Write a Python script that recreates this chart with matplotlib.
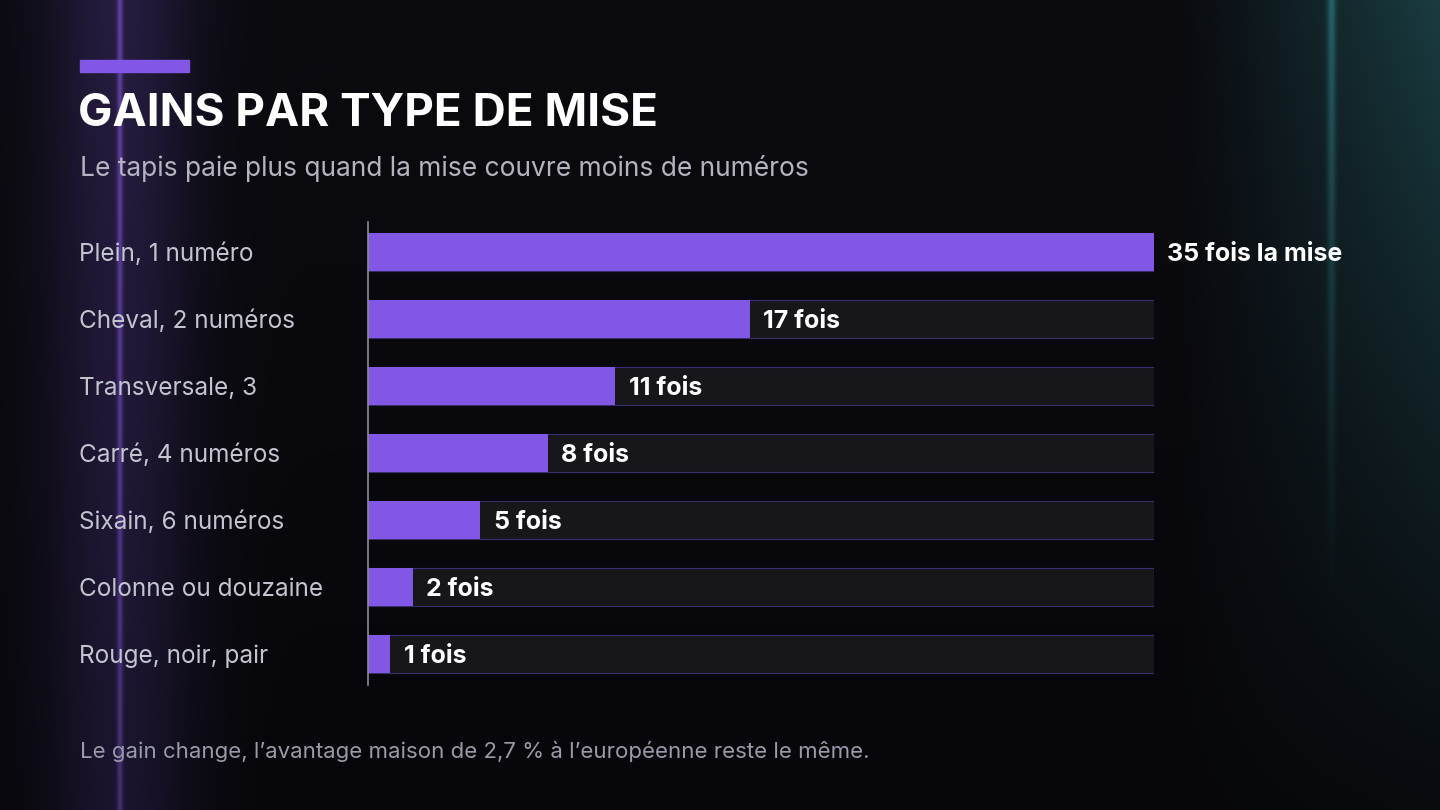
import matplotlib
matplotlib.use("Agg")
import matplotlib.pyplot as plt
import numpy as np

plt.rcParams['font.family'] = ['Inter', 'DejaVu Sans']

categories = ["Plein, 1 numéro", "Cheval, 2 numéros", "Transversale, 3",
              "Carré, 4 numéros", "Sixain, 6 numéros", "Colonne ou douzaine",
              "Rouge, noir, pair"]
payouts = [35, 17, 11, 8, 5, 2, 1]
value_labels = ["35 fois la mise", "17 fois", "11 fois", "8 fois",
                "5 fois", "2 fois", "1 fois"]
max_payout = 35

W, H = 1440, 810
fig = plt.figure(figsize=(14.4, 8.1), dpi=100)

# dark background with a purple glow on the left and a teal glow on the right
bg = fig.add_axes([0, 0, 1, 1])
xx, yy = np.meshgrid(np.linspace(0, 1, W), np.linspace(0, 1, H))
img = np.zeros((H, W, 3))
img[:] = [0.04, 0.04, 0.06]
purple = np.exp(-((xx - 0.083) / 0.05) ** 2) * 0.2 + np.exp(-((xx - 0.083) / 0.002) ** 2) * 0.4
img += purple[..., None] * np.array([0.55, 0.35, 0.95])
teal = np.clip((xx - 0.82) / 0.18, 0, 1) * np.clip(1 - yy * 0.9, 0, 1) * 0.3
teal += np.exp(-((xx - 0.925) / 0.003) ** 2) * np.clip((0.75 - yy) / 0.75, 0, 1) * 0.35
img += teal[..., None] * np.array([0.2, 0.65, 0.65])
img *= (1 - 0.5 * yy)[..., None] ** 0.5
bg.imshow(np.clip(img, 0, 1), extent=[0, 1, 0, 1], aspect='auto', origin='upper')
bg.axis('off')

# title block
fig.patches.append(plt.Rectangle((80 / W, 1 - 72 / H), 109 / W, 12 / H,
                                 transform=fig.transFigure, color='#8257e6'))
fig.text(78 / W, 1 - 114 / H, "GAINS PAR TYPE DE MISE", fontsize=33, fontweight='bold',
         color='white', va='center')
fig.text(80 / W, 1 - 169 / H, "Le tapis paie plus quand la mise couvre moins de numéros",
         fontsize=19, color='#b4b4c0', va='center')
fig.text(80 / W, 1 - 751 / H,
         "Le gain change, l’avantage maison de 2,7 % à l’européenne reste le même.",
         fontsize=16, color='#9a9aa8', va='center')

# bars
top, bottom = 218.5, 687.5
ax = fig.add_axes([368 / W, 1 - bottom / H, 786 / W, (bottom - top) / H])
ax.set_xlim(0, max_payout)
ax.set_ylim(len(categories) - 0.5, -0.5)
y = np.arange(len(categories))
ax.barh(y, [max_payout] * len(y), height=0.567, color='#16161b',
        edgecolor='#3a2e6e', linewidth=0.8)
ax.barh(y, payouts, height=0.567, color='#8257e6')
for yi, v, lab, cat in zip(y, payouts, value_labels, categories):
    ax.text(v + 0.6, yi + 0.04, lab, color='white', fontsize=18, fontweight='bold',
            va='center', ha='left', clip_on=False)
    ax.text(-12.85, yi + 0.04, cat, color='#c4c4d0', fontsize=17.5, va='center', ha='left')
ax.set_facecolor('none')
for s in ax.spines.values():
    s.set_visible(False)
ax.set_xticks([])
ax.set_yticks([])
fig.add_artist(plt.Line2D([368 / W, 368 / W], [1 - 222 / H, 1 - 685 / H],
                          color='#8a8a9a', linewidth=1.2))

fig.savefig("out.png", dpi=100)
